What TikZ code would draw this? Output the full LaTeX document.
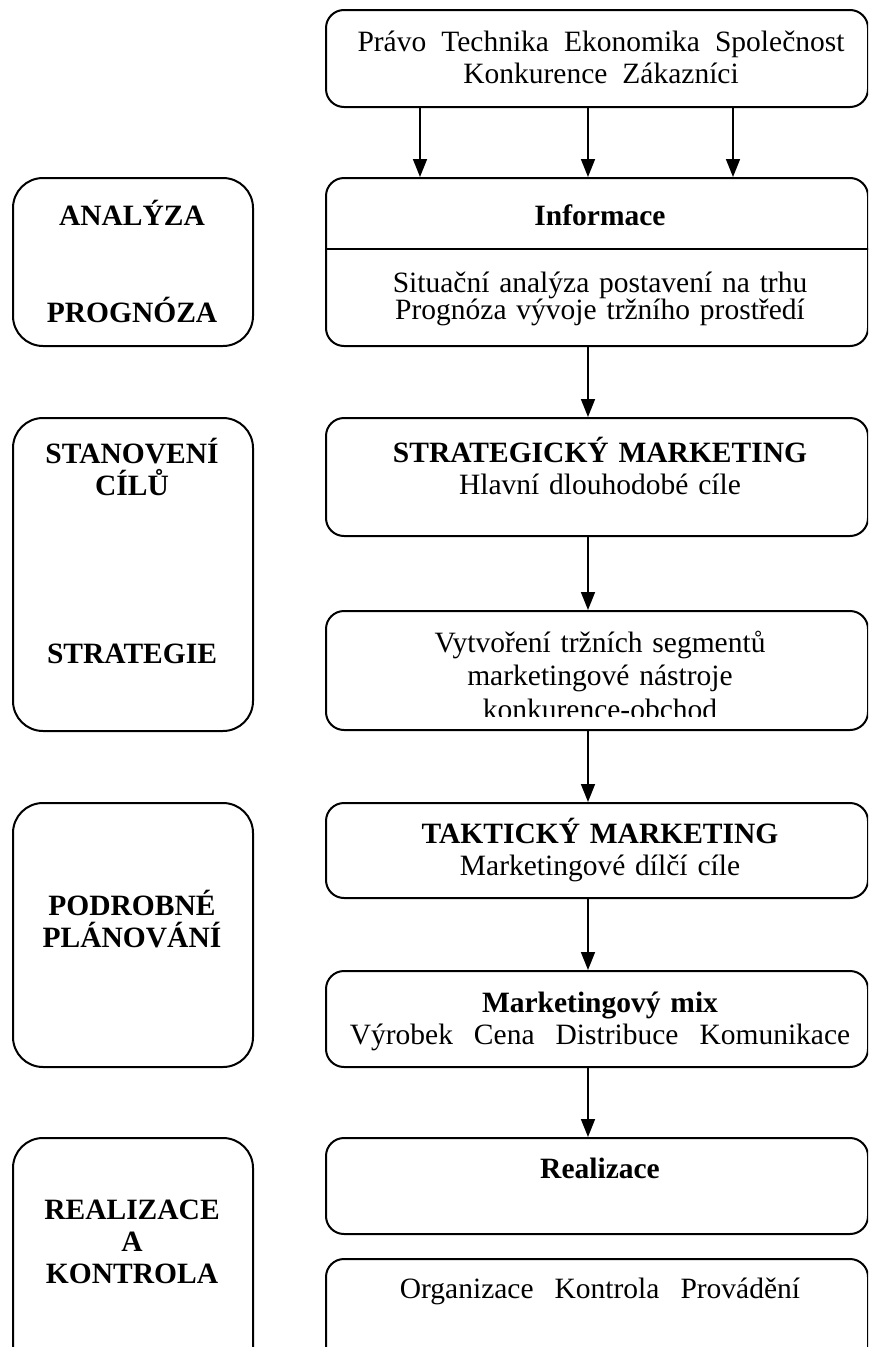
\documentclass[tikz,border=0pt]{standalone}
\usepackage{fontspec}
\setmainfont{Liberation Serif}
\usetikzlibrary{arrows.meta,positioning,calc}

\begin{document}
\begin{tikzpicture}[x=1pt, y=-1pt,
    phase/.style={draw, line width=2pt, rounded corners=30pt, minimum width=240pt, anchor=north west, inner sep=0pt},
    block/.style={draw, line width=2pt, rounded corners=18pt, minimum width=542pt, anchor=north west, inner sep=0pt},
    head/.style={font=\fontsize{29.5}{32}\selectfont\bfseries, text width=300pt, align=center, anchor=base, inner sep=0pt},
    body/.style={font=\fontsize{29.5}{32}\selectfont, text width=540pt, align=center, anchor=base, inner sep=0pt},
    arrow/.style={-{Triangle[length=18pt,width=14pt]}, line width=1.6pt}
]
    \path[use as bounding box, clip] (0,0) rectangle (868,1347);

    % left column: phases
    \node[phase, minimum height=168pt] (analyza) at (12,177) {};
    \node[phase, minimum height=313pt] (cile) at (12,417) {};
    \node[phase, minimum height=264pt] (planovani) at (12,802) {};
    \node[phase, minimum height=260pt] (kontrola) at (12,1137) {};

    \node[head] (analyza-t) at (132,225) {ANALÝZA};
    \node[head] (prognoza-t) at (132,322) {PROGNÓZA};
    \node[head] (cile-t) at (132,463) {STANOVENÍ\\CÍLŮ};
    \node[head] (strategie-t) at (132,663) {STRATEGIE};
    \node[head] (planovani-t) at (132,915) {PODROBNÉ\\PLÁNOVÁNÍ};
    \node[head] (kontrola-t) at (132,1219) {REALIZACE\\A\\KONTROLA};

    % right column: steps
    \node[block, minimum height=97pt] (okoli) at (325,9) {};
    \node[body] (okoli-t) at (601,51) {Právo\hspace{15pt}Technika\hspace{15pt}Ekonomika\hspace{15pt}Společnost\\Konkurence\hspace{15pt}Zákazníci};

    \node[block, minimum height=168pt] (info) at (325,177) {};
    \coordinate (split) at (0,249);
    \draw[line width=2pt] (info.west |- split) -- (info.east |- split);
    \node[head, text width=540pt] (info-t) at (600,225) {Informace};
    \node[body, font=\fontsize{29.5}{26}\selectfont] (situace-t) at (600,292) {Situační analýza postavení na trhu\\Prognóza vývoje tržního prostředí};

    \node[block, minimum height=118pt] (strat) at (325,417) {};
    \node[body] (strat-t) at (600,462) {\textbf{STRATEGICKÝ MARKETING}\\Hlavní dlouhodobé cíle};

    \node[block, minimum height=119pt] (segm) at (325,610) {};
    \begin{scope}
        \clip (325,600) rectangle (868,716);
        \node[body, font=\fontsize{29.5}{33.5}\selectfont] (segm-t) at (600,652) {Vytvoření tržních segmentů\\marketingové nástroje\\konkurence-obchod};
    \end{scope}

    \node[block, minimum height=95pt] (takt) at (325,802) {};
    \node[body] (takt-t) at (600,843) {\textbf{TAKTICKÝ MARKETING}\\Marketingové dílčí cíle};

    \node[block, minimum height=96pt] (mix) at (325,970) {};
    \node[body] (mix-t) at (600,1012) {\textbf{Marketingový mix}\\Výrobek\hspace{21pt}Cena\hspace{21pt}Distribuce\hspace{21pt}Komunikace};

    \node[block, minimum height=96pt] (real) at (325,1137) {};
    \node[head, text width=540pt] (real-t) at (600,1178) {Realizace};

    \node[block, minimum height=130pt] (org) at (325,1258) {};
    \node[body] (org-t) at (600,1298) {Organizace\hspace{21pt}Kontrola\hspace{21pt}Provádění};

    % connectors
    \coordinate (axis) at (588,0);
    \foreach \xa in {420,588,733} {
        \coordinate (a) at (\xa,0);
        \draw[arrow] (okoli.south -| a) -- (info.north -| a);
    }
    \foreach \from/\to in {info/strat, strat/segm, segm/takt, takt/mix, mix/real}
        \draw[arrow] (\from.south -| axis) -- (\to.north -| axis);
\end{tikzpicture}
\end{document}
